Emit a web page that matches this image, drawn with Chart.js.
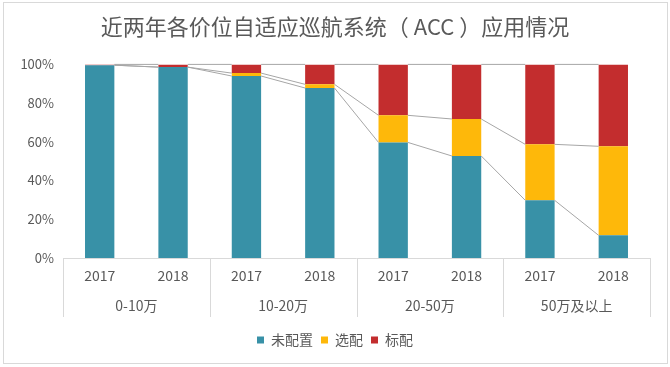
<!DOCTYPE html>
<html>
<head>
<meta charset="utf-8">
<script src="https://cdn.jsdelivr.net/npm/chart.js@4.4.1/dist/chart.umd.min.js"></script>
<style>
  html, body { margin: 0; padding: 0; background: #fff; }
  #wrap { position: relative; width: 670px; height: 367px; }
  #frame { position: absolute; left: 3px; top: 2px; width: 663px; height: 360px; border: 1px solid #d9d9d9; pointer-events: none; }
</style>
</head>
<body>
<div id="wrap">
  <canvas id="acc-chart" width="670" height="367"></canvas>
  <div id="frame"></div>
</div>
<script>
// ---- data ----
const years = ['2017', '2018', '2017', '2018', '2017', '2018', '2017', '2018'];
const priceGroups = ['0-10万', '10-20万', '20-50万', '50万及以上'];
const noneShare = [99.6, 98.6, 94.0, 87.8, 59.7, 52.7, 29.8, 11.7];     // 未配置
const optionShare = [0, 0, 1.5, 1.9, 14.0, 19.1, 28.9, 46.0];          // 选配
const standardShare = [0.4, 1.4, 4.5, 10.3, 26.3, 28.2, 41.3, 42.3];   // 标配
const yTicks = [0, 20, 40, 60, 80, 100];

const TXT = '#595959';
const FONT = '"Noto Sans CJK SC", "Noto Sans", sans-serif';

// Excel-style series lines between neighbouring bars + group dividers
const seriesLines = {
  id: 'seriesLines',
  afterDatasetsDraw(chart) {
    const ctx = chart.ctx;
    ctx.save();
    ctx.strokeStyle = '#a6a6a6';
    ctx.lineWidth = 1;
    chart.data.datasets.forEach((ds, di) => {
      const bars = chart.getDatasetMeta(di).data;
      for (let i = 0; i < bars.length - 1; i++) {
        const a = bars[i], b = bars[i + 1];
        ctx.beginPath();
        ctx.moveTo(a.x + a.width / 2, a.y);
        ctx.lineTo(b.x - b.width / 2, b.y);
        ctx.stroke();
      }
    });
    ctx.restore();
  },
  afterDraw(chart) {
    const ctx = chart.ctx;
    const x2 = chart.scales.x2;
    const top = chart.chartArea.bottom;
    ctx.save();
    ctx.strokeStyle = '#d9d9d9';
    ctx.lineWidth = 1;
    const step = (x2.right - x2.left) / priceGroups.length;
    for (let i = 0; i <= priceGroups.length; i++) {
      const x = Math.round(x2.left + step * i) + 0.5;
      ctx.beginPath();
      ctx.moveTo(x, top);
      ctx.lineTo(x, 317);
      ctx.stroke();
    }
    ctx.beginPath();
    ctx.moveTo(x2.left, Math.round(top) + 0.5);
    ctx.lineTo(x2.right, Math.round(top) + 0.5);
    ctx.stroke();
    ctx.restore();
  }
};

new Chart(document.getElementById('acc-chart'), {
  type: 'bar',
  data: {
    labels: years,
    datasets: [
      { label: '未配置', data: noneShare, backgroundColor: '#3891A7' },
      { label: '选配', data: optionShare, backgroundColor: '#FEB80A' },
      { label: '标配', data: standardShare, backgroundColor: '#C32D2E' },
    ]
  },
  options: {
    responsive: false,
    animation: false,
    layout: { padding: { left: 10, right: 10, top: 0, bottom: 10 } },
    datasets: { bar: { barPercentage: 0.4, categoryPercentage: 1 } },
    plugins: {
      title: {
        display: true,
        text: '近两年各价位自适应巡航系统（ ACC ）应用情况',
        color: TXT,
        font: { family: FONT, size: 22, weight: 'normal' },
        padding: { top: 13, bottom: 25 }
      },
      legend: {
        position: 'bottom',
        labels: {
          color: TXT,
          font: { family: FONT, size: 14 },
          boxWidth: 7, boxHeight: 7, padding: 8
        }
      },
      tooltip: { enabled: false }
    },
    scales: {
      x: {
        stacked: true,
        grid: { display: false, drawTicks: false },
        border: { display: false },
        ticks: { color: TXT, font: { family: FONT, size: 14 }, padding: 9, maxRotation: 0 },
        afterFit: (s) => { s.height = 32; }
      },
      x2: {
        type: 'category',
        labels: priceGroups,
        position: 'bottom',
        offset: true,
        grid: { display: false, drawTicks: false },
        border: { display: false },
        ticks: { color: TXT, font: { family: FONT, size: 14 }, padding: 7 },
        afterFit: (s) => { s.height = 35; }
      },
      y: {
        stacked: true,
        min: 0, max: 100,
        afterBuildTicks: (s) => { s.ticks = yTicks.map(v => ({ value: v })); },
        grid: { display: false, drawTicks: false },
        border: { display: false },
        ticks: { color: TXT, font: { family: FONT, size: 13 }, padding: 9, callback: (v) => v + '%' },
        afterFit: (s) => { s.width = 53; }
      },
      // empty right-hand spacer so the plot ends where the original does
      y2: {
        position: 'right',
        min: 0, max: 100,
        grid: { display: false, drawTicks: false },
        border: { display: false },
        ticks: { display: false },
        afterFit: (s) => { s.width = 10; }
      }
    }
  },
  plugins: [seriesLines]
});
</script>
</body>
</html>
